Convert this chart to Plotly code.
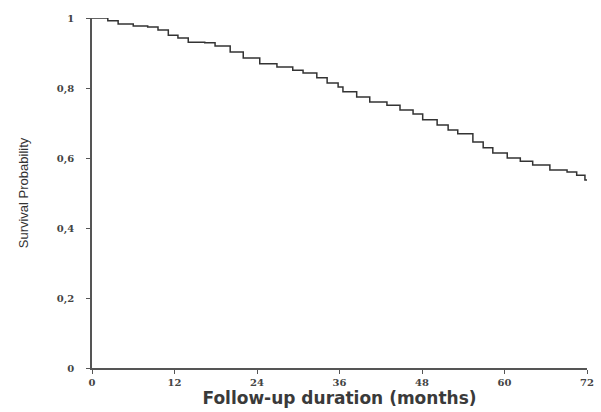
import plotly.graph_objects as go

# Kaplan-Meier survival curve (months, survival probability)
months = [0, 2.3, 3.8, 6.0, 8.1, 9.6, 11.1, 12.5, 14.0, 16.4, 17.9, 20.1, 22.0, 24.4,
          26.9, 29.2, 30.7, 32.7, 34.2, 35.8, 36.5, 38.5, 40.4, 42.9, 44.8, 46.7, 48.1,
          50.2, 51.8, 53.2, 55.4, 56.9, 58.3, 60.4, 62.3, 64.1, 66.6, 69.1, 70.5, 71.7, 72]
survival = [1.0, 0.992, 0.983, 0.977, 0.974, 0.966, 0.951, 0.943, 0.931, 0.929, 0.92, 0.903,
            0.886, 0.869, 0.860, 0.851, 0.843, 0.829, 0.814, 0.803, 0.789, 0.774, 0.760,
            0.751, 0.737, 0.726, 0.709, 0.694, 0.680, 0.669, 0.646, 0.629, 0.614, 0.600,
            0.591, 0.580, 0.566, 0.560, 0.551, 0.537, 0.537]

x_ticks = [0, 12, 24, 36, 48, 60, 72]
y_ticks = [0, 0.2, 0.4, 0.6, 0.8, 1]
y_tick_labels = ["0", "0,2", "0,4", "0,6", "0,8", "1"]

fig = go.Figure()
fig.add_trace(go.Scatter(x=months, y=survival, mode="lines", line_shape="hv",
                         line=dict(color="#333333", width=1.5), showlegend=False,
                         cliponaxis=False))

tickfont = dict(family="DejaVu Serif", size=10, color="#444444", weight="bold")
fig.update_layout(
    width=601, height=412,
    margin=dict(l=92, r=14, t=18, b=44),
    paper_bgcolor="white", plot_bgcolor="white",
    xaxis=dict(range=[0, 72], tickvals=x_ticks, ticktext=[str(v) for v in x_ticks],
               automargin=False,
               showgrid=False, zeroline=False, showline=True, linecolor="#555555", linewidth=1.5,
               ticks="outside", ticklen=4, tickcolor="#555555", tickfont=tickfont,
               title=dict(text="Follow-up duration (months)", standoff=2,
                          font=dict(family="DejaVu Sans", size=17, color="#3a3a3a", weight="bold"))),
    yaxis=dict(range=[0, 1], tickvals=y_ticks, ticktext=y_tick_labels,
               automargin=False,
               showgrid=False, zeroline=False, showline=True, linecolor="#555555", linewidth=1.5,
               ticks="outside", ticklen=4, tickcolor="#555555", tickfont=tickfont,
               ticklabelstandoff=10,
               title=dict(text="Survival Probability", standoff=25,
                          font=dict(family="Liberation Sans", size=13, color="#333333"))),
)
fig.write_html("out.html", config={"displayModeBar": False},
               post_script="document.body.style.margin='0';document.body.style.overflow='hidden';")
